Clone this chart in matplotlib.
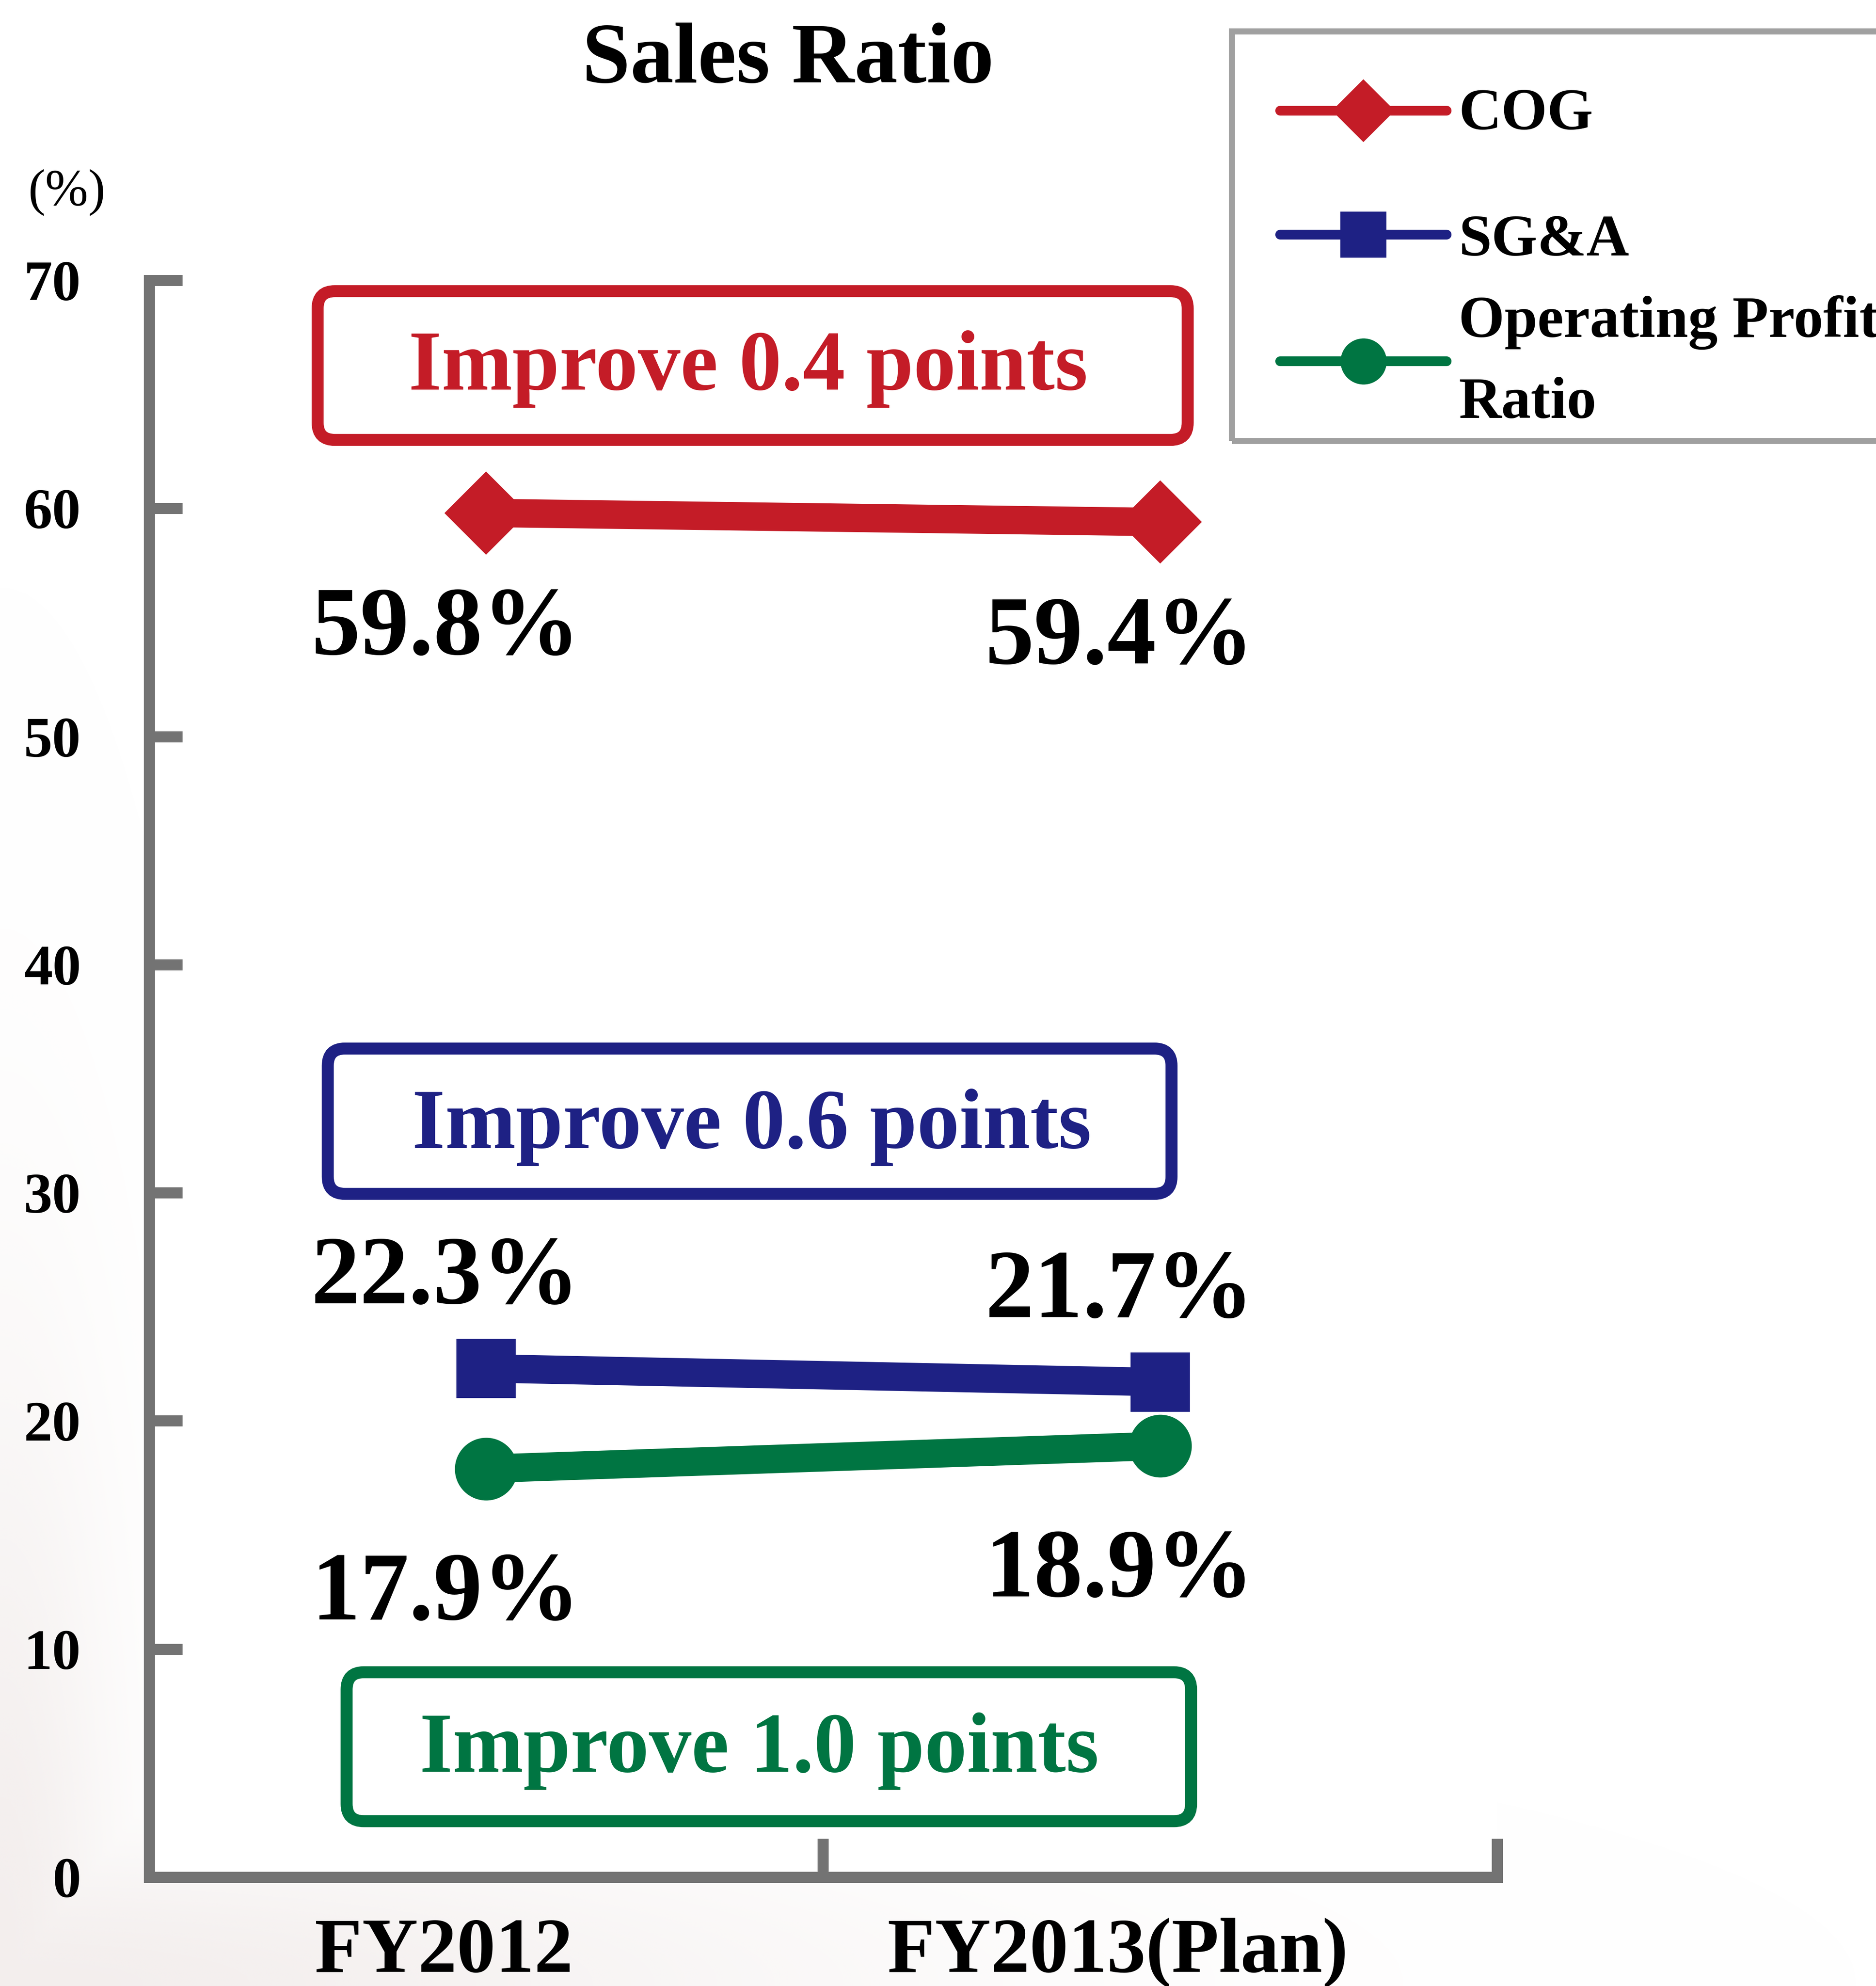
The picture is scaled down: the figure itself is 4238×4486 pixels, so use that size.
import numpy as np
import matplotlib.pyplot as plt
from matplotlib.lines import Line2D
from matplotlib.patches import FancyBboxPatch, Rectangle
from matplotlib.transforms import ScaledTranslation

# sales ratio by fiscal year (%)
years = ["FY2012", "FY2013(Plan)"]
cog = [59.8, 59.4]
sga = [22.3, 21.7]
op_ratio = [17.9, 18.9]
series_names = ["COG", "SG&A", "Operating Profit\nRatio"]
notes = ["Improve 0.4 points", "Improve 0.6 points", "Improve 1.0 points"]
yticks = [0, 10, 20, 30, 40, 50, 60, 70]

RED = "#C41C27"
BLUE = "#1E2184"
GREEN = "#007542"
AXIS_GRAY = "#737373"

plt.rcParams['font.family'] = ['Liberation Serif', 'DejaVu Serif']
plt.rcParams['font.weight'] = 'bold'

W, H, DPI = 4238, 4486, 300
fig = plt.figure(figsize=(W / DPI, H / DPI), dpi=DPI)

# faint pinkish haze in the lower-left corner of the page
bg = fig.add_axes([0, 0, 1, 1], zorder=-1)
bg.axis('off')
u, v = np.meshgrid(np.linspace(0, 1, 300), np.linspace(0, 1, 300))
haze = np.maximum(np.exp(-(v / 0.07) ** 2) * np.exp(-(u / 0.45) ** 2),
                  np.exp(-(u / 0.06) ** 2) * np.exp(-(v / 0.32) ** 2))
rgba = np.zeros(u.shape + (4,))
rgba[..., :3] = np.array([232, 222, 220]) / 255
rgba[..., 3] = 0.5 * haze
bg.imshow(rgba, extent=[0, 1, 0, 1], origin='lower', aspect='auto',
          interpolation='bilinear')
bg.set_xlim(0, 1)
bg.set_ylim(0, 1)

ax_rect = [0.0795, 0.05484, 0.7185, 0.80406]
ax = fig.add_axes(ax_rect)

x = np.arange(len(years))
line_kw = dict(lw=15.4, mew=0, zorder=3)
ax.plot(x, cog, color=RED, marker='D', ms=32, **line_kw)
ax.plot(x, sga, color=BLUE, marker='s', ms=32, **line_kw)
ax.plot(x, op_ratio, color=GREEN, marker='o', ms=34, **line_kw)

ax.set_xlim(-0.5, 1.5)
ax.set_ylim(0, 70)

# axis frame: only left and bottom, thick gray
ax.spines[['top', 'right']].set_visible(False)
for side in ('left', 'bottom'):
    ax.spines[side].set_linewidth(6)
    ax.spines[side].set_color(AXIS_GRAY)
    ax.spines[side].set_capstyle('projecting')

ax.set_yticks(yticks)
ax.tick_params(axis='y', direction='in', length=18, width=6, color=AXIS_GRAY,
               pad=37, labelsize=31)
ax.set_xticks(x, years)
ax.set_xticks([-0.5, 0.5, 1.5], minor=True)
ax.tick_params(axis='x', which='major', length=0, pad=22, labelsize=42)
ax.tick_params(axis='x', which='minor', direction='in', length=21, width=6,
               color=AXIS_GRAY)
shift = ScaledTranslation(-23 / 72, 0, fig.dpi_scale_trans)
for lbl in ax.get_xticklabels():
    lbl.set_transform(lbl.get_transform() + shift)

# value labels
for vals, dy in ((cog, -6.2), (sga, 2.85), (op_ratio, -6.6)):
    for xi, val in zip(x, vals):
        ax.text(xi - 0.06, val + dy, f"{val:.1f}%", ha='center', va='baseline',
                fontsize=53, fontweight='bold', color='black')

# rounded callout boxes (left, bottom, right, top, text x, text baseline)
box_layout = [
    (-0.250, 63.00, 1.041, 69.52, 0.389, 65.2),
    (-0.235, 29.95, 1.017, 36.32, 0.394, 31.96),
    (-0.207, 2.45, 1.046, 8.98, 0.405, 4.62),
]
ax_w_px = ax_rect[2] * W
ax_h_px = ax_rect[3] * H
aspect = (ax_w_px / 2) / (ax_h_px / 70)
for (x0, y0, x1, y1, tx, ty), note, color in zip(box_layout, notes, [RED, BLUE, GREEN]):
    box = FancyBboxPatch((x0, y0), x1 - x0, y1 - y0,
                         boxstyle="round,pad=0,rounding_size=0.0256",
                         mutation_aspect=aspect, fill=False, edgecolor=color,
                         lw=6.5, clip_on=False, zorder=2)
    ax.add_patch(box)
    ax.text(tx, ty, note, ha='center', va='baseline', fontsize=46,
            fontweight='bold', color=color)

ax.text(0.474, 1.124, "Sales Ratio", transform=ax.transAxes, ha='center',
        va='baseline', fontsize=47, fontweight='bold')
ax.text(-0.061, 1.055, "(%)", transform=ax.transAxes, ha='center',
        va='center', fontsize=28, fontweight='normal')

# legend drawn in figure coordinates
fig.add_artist(Rectangle((0.6567, 0.77806), 0.40, 0.2062,
                         transform=fig.transFigure, fill=False,
                         edgecolor='#A0A0A0', lw=3.3))
legend_rows = [
    (RED, 'D', 24, 0.94427),
    (BLUE, 's', 25, 0.88186),
    (GREEN, 'o', 25, 0.81810),
]
for color, mk, ms, yr in legend_rows:
    fig.add_artist(Line2D([0.6824, 0.7268, 0.7711], [yr, yr, yr],
                          transform=fig.transFigure, color=color, lw=5.3,
                          solid_capstyle='round', marker=mk, ms=ms, mew=0,
                          markevery=[1]))
legend_baselines = [[0.93480], [0.87138], [0.83045, 0.78962]]
for name, bases in zip(series_names, legend_baselines):
    for part, yb in zip(name.split("\n"), bases):
        fig.text(0.7776, yb, part, ha='left', va='baseline', fontsize=32,
                 fontweight='bold')

fig.savefig("out.png", dpi=DPI)
